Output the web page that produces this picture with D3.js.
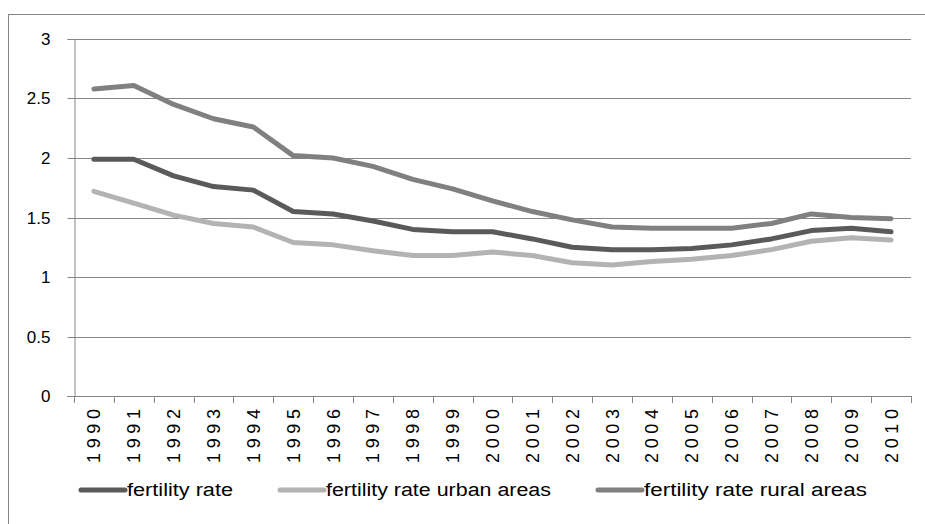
<!DOCTYPE html>
<html><head><meta charset="utf-8">
<script src="https://cdn.jsdelivr.net/npm/d3@7"></script>
<style>
html,body{margin:0;padding:0;background:#fff;}
svg{display:block;}
text{font-family:"Liberation Sans Narrow","Liberation Sans",Arial,sans-serif;fill:#000;}
</style></head>
<body>
<script>
const years = ["1990","1991","1992","1993","1994","1995","1996","1997","1998","1999","2000","2001","2002","2003","2004","2005","2006","2007","2008","2009","2010"];
const fertilityRate = [1.99,1.99,1.85,1.76,1.73,1.55,1.53,1.47,1.40,1.38,1.38,1.32,1.25,1.23,1.23,1.24,1.27,1.32,1.39,1.41,1.38];
const fertilityUrban = [1.72,1.62,1.52,1.45,1.42,1.29,1.27,1.22,1.18,1.18,1.21,1.18,1.12,1.10,1.13,1.15,1.18,1.23,1.30,1.33,1.31];
const fertilityRural = [2.58,2.61,2.45,2.33,2.26,2.02,2.00,1.93,1.82,1.74,1.64,1.55,1.48,1.42,1.41,1.41,1.41,1.45,1.53,1.50,1.49];
const yTicks = [0,0.5,1,1.5,2,2.5,3];
const seriesNames = ["fertility rate","fertility rate urban areas","fertility rate rural areas"];
const seriesColors = ["#5a5a5a","#b3b3b3","#808080"];
const seriesData = [fertilityRate, fertilityUrban, fertilityRural];

const W = 925, H = 524;
const svg = d3.select("body").append("svg").attr("width", W).attr("height", H);

// outer border
svg.append("rect").attr("x",8.5).attr("y",14.5).attr("width",W+10).attr("height",H+10)
  .attr("fill","none").attr("stroke","#868686").attr("stroke-width",1);

const x = d3.scaleBand().domain(years).range([74, 911]).padding(0);
const y = d3.scaleLinear().domain([0,3]).range([396, 39]);
const axisColor = "#868686";

// gridlines
svg.append("g").selectAll("line").data(yTicks.filter(d=>d>0)).join("line")
  .attr("x1",74).attr("x2",911)
  .attr("y1",d=>Math.round(y(d))+0.5).attr("y2",d=>Math.round(y(d))+0.5)
  .attr("stroke",axisColor).attr("stroke-width",1);

// y axis
const yAxis = svg.append("g").attr("transform","translate(74.5,0)")
  .call(d3.axisLeft(y).tickValues(yTicks).tickSize(7).tickPadding(17).tickFormat(d3.format("")));
yAxis.select(".domain").attr("stroke",axisColor);
yAxis.selectAll(".tick line").attr("stroke",axisColor);
yAxis.selectAll(".tick text").style("font-size","17px").style("font-family","Liberation Sans Narrow, Liberation Sans, sans-serif").attr("fill","#000");
yAxis.selectAll(".tick").attr("transform", d=>`translate(0,${Math.round(y(d))+0.5})`);

// x axis
const xg = svg.append("g");
xg.append("line").attr("x1",67).attr("x2",911).attr("y1",396.5).attr("y2",396.5).attr("stroke",axisColor);
const bounds = years.map(d=>x(d)).concat([x.range()[1]]);
xg.selectAll("line.tk").data(bounds).join("line").attr("class","tk")
  .attr("x1",d=>Math.round(d)+0.5).attr("x2",d=>Math.round(d)+0.5)
  .attr("y1",396).attr("y2",403).attr("stroke",axisColor);
xg.selectAll("text").data(years).join("text")
  .attr("transform",d=>`translate(${x(d)+x.bandwidth()/2+6.5},409) rotate(-90)`)
  .attr("text-anchor","end")
  .attr("textLength",54).attr("lengthAdjust","spacing")
  .style("font-family","Liberation Sans, sans-serif").style("font-size","18px")
  .text(d=>d);

// lines
const line = d3.line().x((d,i)=>x(years[i])+x.bandwidth()/2).y(d=>y(d));
svg.append("g").selectAll("path").data(seriesData).join("path")
  .attr("d",line).attr("fill","none")
  .attr("stroke",(d,i)=>seriesColors[i]).attr("stroke-width",5)
  .attr("stroke-linejoin","round").attr("stroke-linecap","round");

// legend
const legendX = [81, 280, 598];
const legendTextW = [106, 225, 223];
const lg = svg.append("g").selectAll("g").data(seriesNames).join("g")
  .attr("transform",(d,i)=>`translate(${legendX[i]},490)`);
lg.append("line").attr("x1",0).attr("x2",44).attr("y1",0).attr("y2",0)
  .attr("stroke",(d,i)=>seriesColors[i]).attr("stroke-width",5).attr("stroke-linecap","round");
lg.append("text").attr("x",46).attr("y",6).style("font-size","18px")
  .attr("textLength",(d,i)=>legendTextW[i]).attr("lengthAdjust","spacingAndGlyphs")
  .text(d=>d);
</script>
</body></html>
